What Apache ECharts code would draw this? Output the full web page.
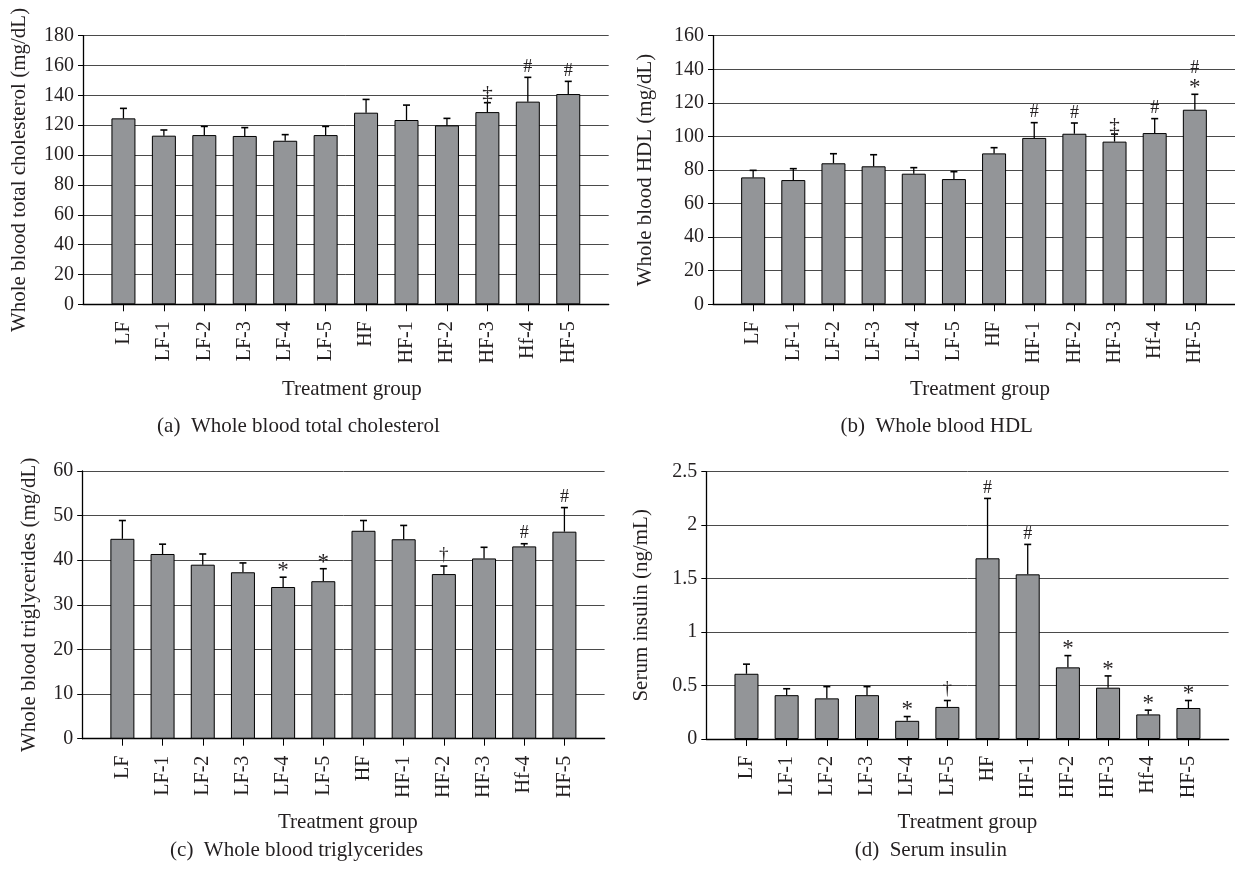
<!DOCTYPE html>
<html><head><meta charset="utf-8">
<script src="https://cdn.jsdelivr.net/npm/echarts@6/dist/echarts.min.js"></script>
<style>html,body{margin:0;padding:0;background:#fff}#c{width:1235px;height:875px}</style>
</head><body><div id="c"></div>
<script>
// ---- data ----
const categories = ['LF','LF-1','LF-2','LF-3','LF-4','LF-5','HF','HF-1','HF-2','HF-3','Hf-4','HF-5'];

const cholMean = [124.6, 113.0, 113.4, 112.8, 109.6, 113.4, 128.4, 123.5, 119.9, 128.8, 135.8, 140.9];
const cholErr  = [6.7, 3.8, 5.8, 5.6, 4.1, 5.8, 8.9, 10.0, 4.7, 6.3, 16.3, 8.5];
const cholSig  = ['', '', '', '', '', '', '', '', '', '‡', '#', '#'];

const hdlMean = [75.6, 74.0, 84.0, 82.2, 77.8, 74.6, 89.9, 99.1, 101.6, 96.9, 102.0, 115.9];
const hdlErr  = [4.2, 6.8, 5.7, 6.9, 3.6, 4.4, 3.4, 9.1, 6.4, 4.5, 8.6, 9.2];
const hdlSig  = ['', '', '', '', '', '', '', '#', '#', '‡', '#', '*|#'];

const tgMean = [44.8, 41.4, 39.0, 37.3, 34.0, 35.3, 46.6, 44.7, 36.9, 40.4, 43.1, 46.4];
const tgErr  = [4.1, 2.2, 2.4, 2.1, 2.2, 2.8, 2.3, 3.1, 1.8, 2.5, 0.6, 5.4];
const tgSig  = ['', '', '', '', '*', '*', '', '', '†', '', '#', '#'];

const insMean = [0.61, 0.41, 0.38, 0.41, 0.17, 0.30, 1.69, 1.54, 0.67, 0.48, 0.23, 0.29];
const insErr  = [0.09, 0.06, 0.11, 0.08, 0.04, 0.06, 0.56, 0.28, 0.11, 0.11, 0.04, 0.07];
const insSig  = ['', '', '', '', '*', '†', '#', '#', '*', '*', '*', '*'];

const yAxisTitles = ['Whole blood total cholesterol (mg/dL)', 'Whole blood HDL (mg/dL)',
                     'Whole blood triglycerides (mg/dL)', 'Serum insulin (ng/mL)'];
const yMaxes = [180, 160, 60, 2.5];
const yIntervals = [20, 20, 10, 0.5];
const xAxisTitle = 'Treatment group';
const captions = ['(a)  Whole blood total cholesterol', '(b)  Whole blood HDL',
                  '(c)  Whole blood triglycerides', '(d)  Serum insulin'];

// ---- layout ----
const FONT = 'Liberation Serif';
const TXT = '#231f20';
const layout = [
  {grid:{left:83, top:35.7, width:525.7, height:268.6}, yGap:53, xGap:75, xShift:12, cap:[298.5,426]},
  {grid:{left:713, top:35.7, width:522.5, height:268.6}, yGap:57, xGap:75, xShift:12, cap:[936.7,426]},
  {grid:{left:82.2, top:471, width:522.4, height:267.7}, yGap:42, xGap:73, xShift:9, cap:[296.6,850]},
  {grid:{left:706.3, top:471.7, width:522.3, height:267.3}, yGap:54, xGap:72.5, xShift:0, cap:[930.8,850]}
];
const panels = [
  {mean:cholMean, err:cholErr, sig:cholSig},
  {mean:hdlMean, err:hdlErr, sig:hdlSig},
  {mean:tgMean, err:tgErr, sig:tgSig},
  {mean:insMean, err:insErr, sig:insSig}
];
const positions = categories.map((c,i)=>i+1);

const symSpec = {
  '#': {size:18, dy:-10.1, adv:18},
  '*': {size:23, dy:-6.2, adv:16},
  '†': {size:19, dy:-11.5, adv:20},
  '‡': {size:21, dy:-7.9, adv:20}
};

const grids = [], xAxes = [], yAxes = [], series = [], graphics = [];
panels.forEach((p, i) => {
  const L = layout[i];
  grids.push(L.grid);
  xAxes.push({
    gridIndex:i, type:'value', min:0, max:categories.length+1, interval:1,
    axisLine:{show:true, lineStyle:{color:'#000', width:1.3}},
    axisTick:{show:true, customValues:positions, length:7, lineStyle:{color:'#000', width:1}},
    axisLabel:{show:true, customValues:positions, formatter:v=>categories[Math.round(v)-1] || '',
      rotate:90, margin:17, fontFamily:FONT, fontSize:20, color:TXT},
    splitLine:{show:false},
    name:xAxisTitle, nameLocation:'middle', nameGap:L.xGap,
    nameTextStyle:{fontFamily:FONT, fontSize:21, color:TXT, padding:[0,0,0,L.xShift]}
  });
  yAxes.push({
    gridIndex:i, type:'value', min:0, max:yMaxes[i], interval:yIntervals[i],
    axisLine:{show:true, lineStyle:{color:'#000', width:1.3}},
    axisTick:{show:true, length:5, lineStyle:{color:'#000', width:1}},
    axisLabel:{margin:9, fontFamily:FONT, fontSize:20, color:TXT},
    splitLine:{show:true, lineStyle:{color:'#4a4a4a', width:1}},
    name:yAxisTitles[i], nameLocation:'middle', nameGap:L.yGap,
    nameTextStyle:{fontFamily:FONT, fontSize:21, color:TXT}
  });
  series.push({
    type:'bar', xAxisIndex:i, yAxisIndex:i, barWidth:24, silent:true,
    data:p.mean.map((v,k)=>[positions[k], v]),
    itemStyle:{color:'#939598', borderColor:'#000', borderWidth:1}
  });
  series.push({
    type:'custom', xAxisIndex:i, yAxisIndex:i, silent:true, z:3,
    data:p.mean.map((v,k)=>[positions[k], v, v + p.err[k]]),
    encode:{x:0, y:[1,2]},
    renderItem:(params, api)=>{
      const x = api.value(0);
      const b = api.coord([x, api.value(1)]);
      const t = api.coord([x, api.value(2)]);
      return {type:'group', children:[
        {type:'line', shape:{x1:b[0], y1:b[1], x2:t[0], y2:t[1]}, style:{stroke:'#000', lineWidth:1.3}},
        {type:'line', shape:{x1:t[0]-3.5, y1:t[1], x2:t[0]+3.5, y2:t[1]}, style:{stroke:'#000', lineWidth:1.6}}
      ]};
    }
  });
  series.push({
    type:'custom', xAxisIndex:i, yAxisIndex:i, silent:true, z:4,
    data:p.mean.map((v,k)=>[positions[k], v + p.err[k]]),
    encode:{x:0, y:1},
    renderItem:(params, api)=>{
      const s = p.sig[params.dataIndex];
      if (!s) return null;
      const pt = api.coord([api.value(0), api.value(1)]);
      let cap = pt[1];
      const children = [];
      s.split('|').forEach(sym=>{
        const sp = symSpec[sym];
        children.push({type:'text', style:{text:sym, x:pt[0], y:cap+sp.dy, align:'center', verticalAlign:'middle',
          font: sp.size + 'px "' + FONT + '"', fill:TXT}});
        cap -= sp.adv;
      });
      return {type:'group', children};
    }
  });
  graphics.push({type:'text', left:L.cap[0], top:L.cap[1], silent:true,
    style:{text:captions[i], x:0, y:0, align:'center', verticalAlign:'middle', font:'21px "' + FONT + '"', fill:TXT}});
});

const chart = echarts.init(document.getElementById('c'), null, {renderer:'canvas'});
chart.setOption({
  animation:false, backgroundColor:'#fff',
  grid:grids, xAxis:xAxes, yAxis:yAxes, series:series,
  graphic:graphics.map(g=>({type:'text', x:g.left, y:g.top, silent:true, style:g.style}))
});
</script></body></html>
